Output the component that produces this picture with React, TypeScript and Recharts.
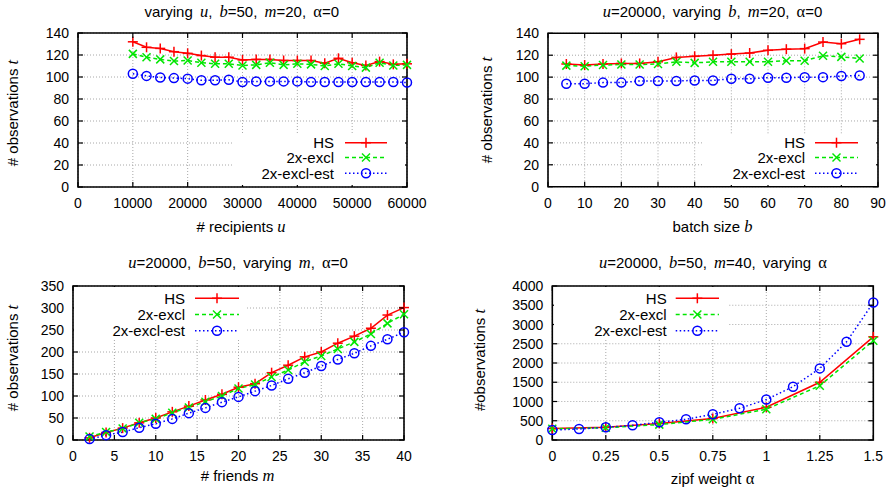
import { LineChart, Line, XAxis, YAxis, CartesianGrid, ReferenceArea, Legend } from 'recharts';
import type { ReactNode } from 'react';

// varying u
const uValues = [10000, 12500, 15000, 17500, 20000, 22500, 25000, 27500, 30000, 32500, 35000, 37500, 40000, 42500, 45000, 47500, 50000, 52500, 55000, 57500, 60000];
const hsU = [132, 127, 126, 123, 121.5, 119.5, 118, 118, 115.5, 116, 116, 115, 115, 115, 112.5, 117, 113, 110.5, 114, 111.5, 112];
const exclU = [121, 118, 116, 114.5, 115, 113, 112, 112, 110.5, 111, 113, 111, 112, 111.5, 110, 112, 110, 108.5, 113, 110.5, 111];
const estU = [103, 101, 99.5, 99, 98.5, 97, 97, 97.5, 95.5, 96, 96, 96, 96, 95.5, 95.5, 95.5, 95.5, 95.5, 95.5, 95.5, 95];

// varying b
const bValues = [5, 10, 15, 20, 25, 30, 35, 40, 45, 50, 55, 60, 65, 70, 75, 80, 85];
const hsB = [112, 111, 112, 112.5, 112.5, 114, 118, 119, 120, 121, 122, 124.5, 125.5, 126, 132, 130.5, 134.5];
const exclB = [110.5, 110, 111, 111.5, 111.5, 112, 114, 113, 114, 114, 114, 114, 115, 115, 119.5, 118.5, 117];
const estB = [94, 94, 95, 95, 96.5, 96.5, 96.5, 97, 97, 98.5, 98.5, 99.5, 99.5, 100, 100, 101, 101.5];

// varying m
const mValues = [2, 4, 6, 8, 10, 12, 14, 16, 18, 20, 22, 24, 26, 28, 30, 32, 34, 36, 38, 40];
const hsM = [5, 17, 27, 39, 50, 64, 77, 91, 104, 120, 128, 153, 170, 189, 200, 220, 236, 254, 284, 301];
const exclM = [8, 18, 26, 39, 48, 62, 74, 87, 100, 117, 126, 143, 159, 178, 191, 207, 223, 241, 265, 286];
const estM = [2, 11, 18, 28, 37, 48, 61, 73, 86, 98, 111, 124, 139, 153, 168, 183, 197, 214, 229, 245];

// varying alpha
const alphaValues = [0, 0.125, 0.25, 0.375, 0.5, 0.625, 0.75, 0.875, 1, 1.125, 1.25, 1.375, 1.5];
const hsA = [300, null, 333, null, 430, null, 560, null, 850, null, 1500, null, 2680];
const exclA = [290, null, 320, null, 400, null, 537, null, 800, null, 1410, null, 2580];
const estA = [260, 286, 330, 381, 460, 537, 667, 823, 1050, 1385, 1860, 2550, 3570];

const uTicks = [0, 10000, 20000, 30000, 40000, 50000, 60000];
const bTicks = [0, 10, 20, 30, 40, 50, 60, 70, 80, 90];
const mTicks = [0, 5, 10, 15, 20, 25, 30, 35, 40];
const alphaTicks = [0, 0.25, 0.5, 0.75, 1, 1.25, 1.5];
const obsTicks = [0, 20, 40, 60, 80, 100, 120, 140];
const obsTicksM = [0, 50, 100, 150, 200, 250, 300, 350];
const obsTicksA = [0, 500, 1000, 1500, 2000, 2500, 3000, 3500, 4000];

const SANS = '"Liberation Sans", Arial, Helvetica, sans-serif';
const SERIF = '"Liberation Serif", "DejaVu Serif", serif';

const SERIES = [
  { key: 'hs', name: 'HS', color: '#ff0000', dash: undefined as string | undefined, marker: 'plus' },
  { key: 'excl', name: '2x-excl', color: '#00e600', dash: '4 3', marker: 'cross' },
  { key: 'est', name: '2x-excl-est', color: '#0000ff', dash: '1.5 2.5', marker: 'circle' },
];

const makeRows = (xs: number[], hs: (number | null)[], excl: (number | null)[], est: (number | null)[]) =>
  xs.map((x, i) => ({ x, hs: hs[i], excl: excl[i], est: est[i] }));

const Marker = ({ kind, cx, cy, color }: { kind: string; cx: number; cy: number; color: string }) => {
  if (kind === 'plus') {
    return (
      <g stroke={color} strokeWidth={1.5}>
        <line x1={cx - 5} y1={cy} x2={cx + 5} y2={cy} />
        <line x1={cx} y1={cy - 5} x2={cx} y2={cy + 5} />
      </g>
    );
  }
  if (kind === 'cross') {
    return (
      <g stroke={color} strokeWidth={1.5}>
        <line x1={cx - 4} y1={cy - 4} x2={cx + 4} y2={cy + 4} />
        <line x1={cx - 4} y1={cy + 4} x2={cx + 4} y2={cy - 4} />
      </g>
    );
  }
  return <circle cx={cx} cy={cy} r={4.5} fill="none" stroke={color} strokeWidth={1.5} />;
};

interface Box { l: number; t: number; r: number; b: number }
interface LegendSpec { box: Box; textRight: number; sampleL: number; sampleR: number; rows: number[] }

interface PanelProps {
  x0: number; y0: number; w: number; h: number;
  plot: Box;
  data: any[];
  xDomain: [number, number]; xTicks: number[];
  yDomain: [number, number]; yTicks: number[];
  legend: LegendSpec;
  title: ReactNode; titlePos: [number, number];
  xLabel: ReactNode; xLabelPos: [number, number];
  yLabel: ReactNode; yLabelPos: [number, number];
}

const Panel = (p: PanelProps) => {
  const pl = p.plot.l - p.x0;
  const pr = p.plot.r - p.x0;
  const pt = p.plot.t - p.y0;
  const pb = p.plot.b - p.y0;
  const xAxisH = 30;

  const XTick = ({ x, payload }: any) => (
    <g>
      <line x1={x} y1={pb} x2={x} y2={pb - 5} stroke="#000" strokeWidth={1.2} />
      <line x1={x} y1={pt} x2={x} y2={pt + 5} stroke="#000" strokeWidth={1.2} />
      <text x={x} y={pb + 16} textAnchor="middle" dominantBaseline="central" fontSize={14} fontFamily={SANS} fill="#000">
        {String(payload.value)}
      </text>
    </g>
  );

  const YTick = ({ y, payload }: any) => (
    <g>
      <line x1={pl} y1={y} x2={pl + 5} y2={y} stroke="#000" strokeWidth={1.2} />
      <line x1={pr} y1={y} x2={pr - 5} y2={y} stroke="#000" strokeWidth={1.2} />
      <text x={pl - 9} y={y} textAnchor="end" dominantBaseline="central" fontSize={14} fontFamily={SANS} fill="#000">
        {String(payload.value)}
      </text>
    </g>
  );

  const lg = p.legend;
  const renderLegend = () => (
    <div style={{ width: lg.box.r - lg.box.l, height: lg.box.b - lg.box.t, background: '#fff', position: 'relative' }}>
      <svg width={lg.box.r - lg.box.l} height={lg.box.b - lg.box.t} style={{ display: 'block' }}>
        {SERIES.map((s, i) => {
          const y = lg.rows[i] - lg.box.t;
          const sl = lg.sampleL - lg.box.l;
          const sr = lg.sampleR - lg.box.l;
          return (
            <g key={s.key}>
              <text x={lg.textRight - lg.box.l} y={y} textAnchor="end" dominantBaseline="central" fontSize={15} fontFamily={SANS} fill="#000">
                {s.name}
              </text>
              <line x1={sl} y1={y} x2={sr} y2={y} stroke={s.color} strokeWidth={1.5} strokeDasharray={s.dash} />
              <Marker kind={s.marker} cx={(sl + sr) / 2} cy={y} color={s.color} />
            </g>
          );
        })}
      </svg>
    </div>
  );

  return (
    <div style={{ position: 'absolute', left: p.x0, top: p.y0, width: p.w, height: p.h }}>
      <LineChart
        width={p.w}
        height={p.h}
        data={p.data}
        margin={{ top: pt, right: p.w - pr, left: 0, bottom: p.h - pb - xAxisH }}
      >
        <CartesianGrid stroke="#a8a8a8" strokeDasharray="1 2" strokeWidth={1} />
        <XAxis
          dataKey="x"
          type="number"
          domain={p.xDomain}
          ticks={p.xTicks}
          height={xAxisH}
          axisLine={false}
          tickLine={false}
          tick={<XTick />}
          interval={0}
        />
        <YAxis
          type="number"
          domain={p.yDomain}
          ticks={p.yTicks}
          width={pl}
          axisLine={false}
          tickLine={false}
          tick={<YTick />}
          interval={0}
        />
        <Legend
          layout="vertical"
          align="center"
          verticalAlign="middle"
          content={renderLegend}
          wrapperStyle={{ left: lg.box.l - p.x0, top: lg.box.t - p.y0, width: lg.box.r - lg.box.l, height: lg.box.b - lg.box.t }}
        />
        {SERIES.map(s => (
          <Line
            key={s.key}
            dataKey={s.key}
            name={s.name}
            type="linear"
            stroke={s.color}
            strokeWidth={1.5}
            strokeDasharray={s.dash}
            connectNulls
            isAnimationActive={false}
            activeDot={false}
            dot={(d: any) =>
              d.value == null || d.cx == null ? <g key={`${s.key}-${d.index}`} /> : (
                <g key={`${s.key}-${d.index}`}>
                  <Marker kind={s.marker} cx={d.cx} cy={d.cy} color={s.color} />
                </g>
              )
            }
          />
        ))}
        <ReferenceArea
          x1={p.xDomain[0]}
          x2={p.xDomain[1]}
          y1={p.yDomain[0]}
          y2={p.yDomain[1]}
          fill="none"
          fillOpacity={0}
          stroke="#000"
          strokeWidth={1.6}
          ifOverflow="visible"
        />
      </LineChart>
      <div style={{ position: 'absolute', left: p.titlePos[0] - p.x0, top: p.titlePos[1] - p.y0, transform: 'translate(-50%, -50%)', whiteSpace: 'nowrap', fontFamily: SANS, fontSize: 15, wordSpacing: 3 }}>
        {p.title}
      </div>
      <div style={{ position: 'absolute', left: p.xLabelPos[0] - p.x0, top: p.xLabelPos[1] - p.y0, transform: 'translate(-50%, -50%)', whiteSpace: 'nowrap', fontFamily: SANS, fontSize: 15 }}>
        {p.xLabel}
      </div>
      <div style={{ position: 'absolute', left: p.yLabelPos[0] - p.x0, top: p.yLabelPos[1] - p.y0, transform: 'translate(-50%, -50%) rotate(-90deg)', whiteSpace: 'nowrap', fontFamily: SANS, fontSize: 15 }}>
        {p.yLabel}
      </div>
    </div>
  );
};

const V = ({ children }: { children: ReactNode }) => (
  <span style={{ fontFamily: SERIF, fontStyle: 'italic', fontSize: '1.1em' }}>{children}</span>
);
const G = ({ children }: { children: ReactNode }) => (
  <span style={{ fontFamily: SERIF, fontSize: '1.1em' }}>{children}</span>
);

const obsLabel = (
  <span># observations <V>t</V></span>
);

export default function App() {
  return (
    <div style={{ position: 'absolute', left: 0, top: 0, width: 895, height: 492, background: '#fff', overflow: 'hidden' }}>
      <Panel
        x0={0} y0={0} w={447} h={246}
        plot={{ l: 78, t: 33, r: 407, b: 187 }}
        data={makeRows(uValues, hsU, exclU, estU)}
        xDomain={[0, 60000]} xTicks={uTicks}
        yDomain={[0, 140]} yTicks={obsTicks}
        legend={{ box: { l: 233, t: 135, r: 405, b: 185 }, textRight: 334, sampleL: 345, sampleR: 387, rows: [142.7, 157.5, 173.3] }}
        title={<span>varying <V>u</V>, <V>b</V>=50, <V>m</V>=20, <G>α</G>=0</span>} titlePos={[241.7, 12]}
        xLabel={<span># recipients <V>u</V></span>} xLabelPos={[241, 226.7]}
        yLabel={obsLabel} yLabelPos={[13, 113]}
      />
      <Panel
        x0={447} y0={0} w={448} h={246}
        plot={{ l: 548, t: 33.3, r: 878, b: 186.7 }}
        data={makeRows(bValues, hsB, exclB, estB)}
        xDomain={[0, 90]} xTicks={bTicks}
        yDomain={[0, 140]} yTicks={obsTicks}
        legend={{ box: { l: 702, t: 135, r: 876, b: 185 }, textRight: 805, sampleL: 815, sampleR: 858, rows: [142.7, 157.5, 173.3] }}
        title={<span><V>u</V>=20000, varying <V>b</V>, <V>m</V>=20, <G>α</G>=0</span>} titlePos={[712.5, 12]}
        xLabel={<span>batch size <V>b</V></span>} xLabelPos={[712.5, 226.7]}
        yLabel={obsLabel} yLabelPos={[486.7, 110]}
      />
      <Panel
        x0={0} y0={246} w={447} h={246}
        plot={{ l: 73, t: 286, r: 404, b: 440 }}
        data={makeRows(mValues, hsM, exclM, estM)}
        xDomain={[0, 40]} xTicks={mTicks}
        yDomain={[0, 350]} yTicks={obsTicksM}
        legend={{ box: { l: 74, t: 287, r: 247, b: 339 }, textRight: 185, sampleL: 195, sampleR: 239, rows: [298.3, 314.5, 330.7] }}
        title={<span><V>u</V>=20000, <V>b</V>=50, varying <V>m</V>, <G>α</G>=0</span>} titlePos={[238, 262.7]}
        xLabel={<span># friends <V>m</V></span>} xLabelPos={[237.5, 476]}
        yLabel={obsLabel} yLabelPos={[13, 357.7]}
      />
      <Panel
        x0={447} y0={246} w={448} h={246}
        plot={{ l: 552.3, t: 286, r: 873.3, b: 440 }}
        data={makeRows(alphaValues, hsA, exclA, estA)}
        xDomain={[0, 1.5]} xTicks={alphaTicks}
        yDomain={[0, 4000]} yTicks={obsTicksA}
        legend={{ box: { l: 554, t: 287, r: 728, b: 339 }, textRight: 666.7, sampleL: 675.7, sampleR: 719, rows: [298.3, 314.5, 330.7] }}
        title={<span><V>u</V>=20000, <V>b</V>=50, <V>m</V>=40, varying <G>α</G></span>} titlePos={[713, 262.7]}
        xLabel={<span>zipf weight <G>α</G></span>} xLabelPos={[712.5, 479]}
        yLabel={<span>#observations <V>t</V></span>} yLabelPos={[480, 360]}
      />
    </div>
  );
}
